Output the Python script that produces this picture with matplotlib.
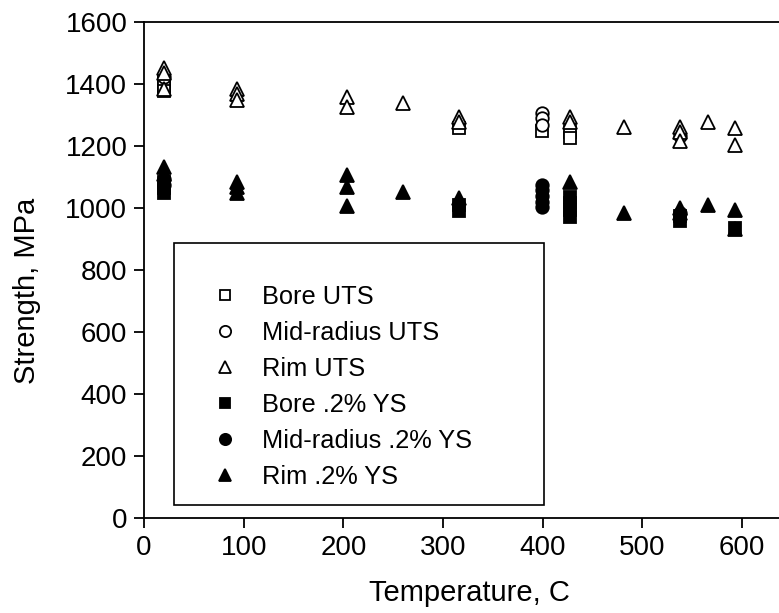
import numpy as np
import matplotlib
matplotlib.use("Agg")
import matplotlib.pyplot as plt
from matplotlib.patches import Rectangle

plt.rcParams['font.family'] = ['Liberation Sans', 'DejaVu Sans']

# test temperatures, C
bore_uts_t = [20, 20, 20, 316, 399, 427, 427]
bore_uts = [1410, 1395, 1378, 1259, 1248, 1246, 1225]
mid_uts_t = [20, 399, 399, 399, 538]
mid_uts = [1425, 1307, 1291, 1270, 1232]
rim_uts_t = [20, 20, 20, 93, 93, 93, 204, 204, 260, 316, 316,
             427, 427, 482, 538, 538, 538, 566, 593, 593]
rim_uts = [1452, 1436, 1386, 1385, 1367, 1348, 1358, 1327, 1340, 1294, 1278,
           1294, 1278, 1262, 1262, 1246, 1216, 1278, 1259, 1205]

bore_ys_t = [20, 20, 20, 316, 316, 427, 427, 427, 427, 538, 538, 593]
bore_ys = [1085, 1065, 1050, 1010, 990, 1037, 1016, 993, 972, 975, 960, 935]
mid_ys_t = [20, 20, 399, 399, 399, 399, 399, 538]
mid_ys = [1095, 1075, 1076, 1060, 1040, 1020, 1005, 985]
rim_ys_t = [20, 20, 93, 93, 93, 204, 204, 204, 260, 316,
            427, 482, 538, 538, 566, 593, 593]
rim_ys = [1132, 1110, 1085, 1068, 1050, 1106, 1068, 1006, 1052, 1034,
          1085, 985, 1000, 985, 1010, 994, 934]

fig = plt.figure(figsize=(7.79, 6.13), dpi=100)
ax = fig.add_axes([0.1849, 0.155, 0.8151, 0.8086])

ew = 1.3
ax.plot(bore_uts_t, bore_uts, 's', ms=8, mfc='white', mec='black', mew=ew, ls='none', label='Bore UTS')
ax.plot(mid_uts_t, mid_uts, 'o', ms=9, mfc='white', mec='black', mew=ew, ls='none', label='Mid-radius UTS')
ax.plot(rim_uts_t, rim_uts, '^', ms=10, mfc='white', mec='black', mew=ew, ls='none', label='Rim UTS')
ax.plot(bore_ys_t, bore_ys, 's', ms=8, mfc='black', mec='black', mew=ew, ls='none', label='Bore .2% YS')
ax.plot(mid_ys_t, mid_ys, 'o', ms=9, mfc='black', mec='black', mew=ew, ls='none', label='Mid-radius .2% YS')
ax.plot(rim_ys_t, rim_ys, '^', ms=10, mfc='black', mec='black', mew=ew, ls='none', label='Rim .2% YS')

ax.set_xlim(0, 637)
ax.set_ylim(0, 1600)
ax.set_xticks(np.arange(0, 601, 100))
ax.set_yticks(np.arange(0, 1601, 200))
ax.tick_params(direction='out', length=7, width=1.3, labelsize=20, pad=5)
ax.spines['right'].set_visible(False)
for s in ['left', 'bottom', 'top']:
    ax.spines[s].set_linewidth(1.3)

ax.set_xlabel('Temperature, C', fontsize=21, va='center')
ax.set_ylabel('Strength, MPa', fontsize=21, va='center')
ax.xaxis.set_label_coords(0.512, -0.151)
ax.yaxis.set_label_coords(-0.184, 0.458)

# legend box drawn separately (reference has large empty top margin)
ax.add_patch(Rectangle((0.047, 0.026), 0.583, 0.529, transform=ax.transAxes,
                       fill=False, edgecolor='black', lw=1.2, zorder=5))
ax.legend(loc='upper left', bbox_to_anchor=(0.1076, 0.470), frameon=False,
          fontsize=18.3, handlelength=1.0, handletextpad=0.96, labelspacing=0.47,
          borderpad=0, borderaxespad=0, markerscale=0.9)

fig.savefig('out.png', dpi=100)
